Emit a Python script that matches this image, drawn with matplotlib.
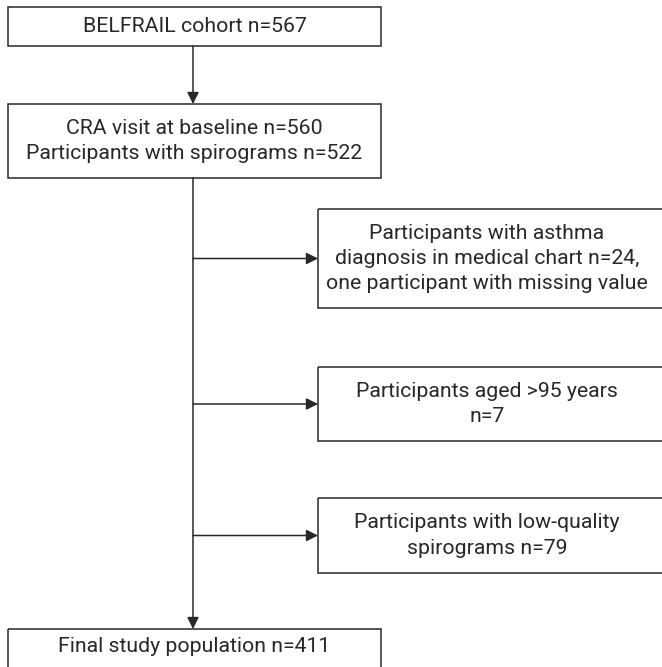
import matplotlib.pyplot as plt
from matplotlib.patches import Rectangle

# Texte des boites (colonne principale et exclusions)
main_labels = [
    "BELFRAIL cohort n=567",
    "CRA visit at baseline n=560\nParticipants with spirograms n=522",
    "Final study population n=411",
]
excl_labels = [
    "Participants with asthma\ndiagnosis in medical chart n=24,\none participant with missing value",
    "Participants aged >95 years\nn=7",
    "Participants with low-quality\nspirograms n=79",
]

# Geometrie en pixels (x0, y0, x1, y1)
main_boxes = [(8, 7, 381, 46), (8, 104, 381, 178), (8, 629, 381, 690)]
excl_boxes = [(318, 209, 700, 308), (318, 367, 700, 441), (318, 498, 700, 573)]
trunk_x = 193

col = "#2a2728"
plt.rcParams['font.family'] = ['Roboto', 'DejaVu Sans']

fig = plt.figure(figsize=(6.62, 6.67), dpi=100)
ax = fig.add_axes([0, 0, 1, 1])
ax.set_xlim(0, 662)
ax.set_ylim(667, 0)
ax.axis('off')


def boite(b, txt, ty=None):
    x0, y0, x1, y1 = b
    ax.add_patch(Rectangle((x0, y0), x1 - x0, y1 - y0, fill=False,
                           edgecolor=col, linewidth=1.1))
    cx = (x0 + 656) / 2 if x1 > 662 else (x0 + x1) / 2
    cy = (y0 + y1) / 2 if ty is None else ty
    ax.text(cx, cy, txt, ha='center', va='center', fontsize=15.3,
            color=col, linespacing=1.42)


for b, t in zip(main_boxes, main_labels):
    boite(b, t, ty=647 if b[1] == 629 else None)
for b, t in zip(excl_boxes, excl_labels):
    boite(b, t)

fleche = dict(arrowstyle='-|>,head_length=0.7,head_width=0.35', color=col,
              lw=1.1, shrinkA=0, shrinkB=0)

# fleche entre les deux premieres boites
ax.annotate("", xy=(trunk_x, main_boxes[1][1]), xytext=(trunk_x, main_boxes[0][3]),
            arrowprops=fleche)
# tronc principal vers la population finale
ax.annotate("", xy=(trunk_x, main_boxes[2][1]), xytext=(trunk_x, main_boxes[1][3]),
            arrowprops=fleche)
# branches d'exclusion
for b in excl_boxes:
    y = (b[1] + b[3]) / 2
    ax.annotate("", xy=(b[0], y), xytext=(trunk_x, y), arrowprops=fleche)

fig.savefig("out.png", dpi=100)
